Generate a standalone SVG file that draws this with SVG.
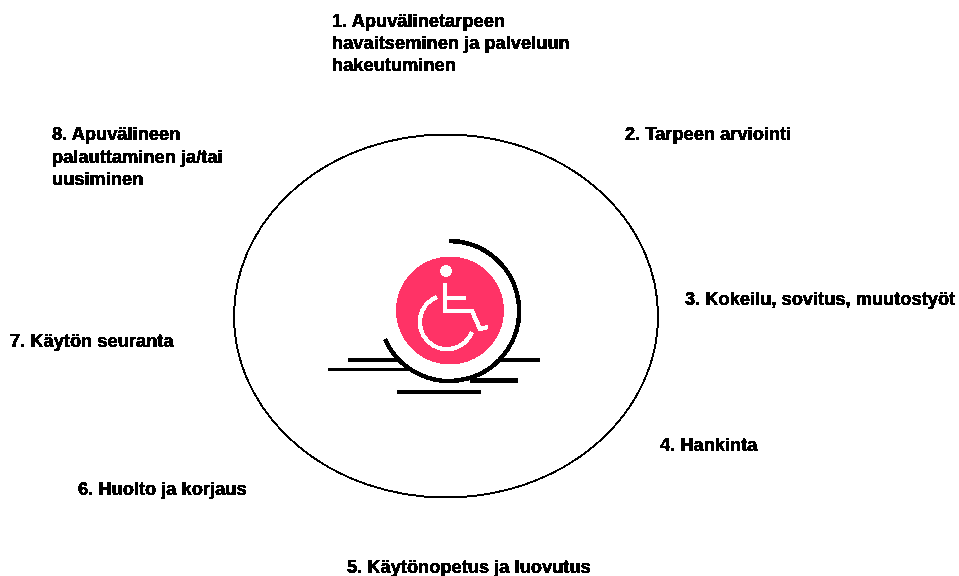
<svg xmlns="http://www.w3.org/2000/svg" width="959" height="576" viewBox="0 0 959 576">
<style>
text{font-family:"Liberation Sans",Arial,sans-serif;font-weight:700;font-size:18.3px;fill:#000;stroke:#000;stroke-width:.35;filter:url(#hard)}
.k{fill:none;stroke:#000;stroke-width:2;shape-rendering:crispEdges}
.l{fill:none;stroke:#000;shape-rendering:crispEdges}
.a{fill:none;stroke:#000;stroke-width:4.5;shape-rendering:crispEdges}
.w{fill:none;stroke:#fff;stroke-width:4.5;shape-rendering:crispEdges}
</style>
<defs>
<filter id="hard" x="-5%" y="-20%" width="110%" height="140%" color-interpolation-filters="sRGB">
<feComponentTransfer><feFuncA type="discrete" tableValues="0 1 1"/></feComponentTransfer>
</filter>
</defs>
<rect width="959" height="576" fill="#fff"/>
<g id="connectors">
<ellipse class="k" cx="446" cy="316" rx="212" ry="181.5"/>
</g>
<g id="symbol">
<path class="l" stroke-width="4" d="M348 360H399M501 360H540"/>
<path class="l" stroke-width="3" d="M328 369H410"/>
<path class="l" stroke-width="4.5" d="M470 380.500H518"/>
<path class="l" stroke-width="4" d="M397 392H481"/>
<circle cx="450" cy="310.500" r="54" fill="#ff3366" shape-rendering="crispEdges"/>
<path class="a" d="M449 241A70 70 0 1 1 385 339"/>
<circle cx="446" cy="271" r="6" fill="#fff" shape-rendering="crispEdges"/>
<path class="w" d="M445 283V311H472L480 329L488 327M445 298H466M437 297A27 27 0 1 0 472 332"/>
</g>
<g id="n1"><text x="332" y="27">1. Apuvälinetarpeen</text><text x="332" y="49">havaitseminen ja palveluun</text><text x="332" y="71">hakeutuminen</text></g>
<g id="n2"><text x="625" y="140">2. Tarpeen arviointi</text></g>
<g id="n3"><text x="685" y="305">3. Kokeilu, sovitus, muutostyöt</text></g>
<g id="n4"><text x="660" y="451">4. Hankinta</text></g>
<g id="n5"><text x="347" y="573">5. Käytönopetus ja luovutus</text></g>
<g id="n6"><text x="78" y="495">6. Huolto ja korjaus</text></g>
<g id="n7"><text x="10" y="347">7. Käytön seuranta</text></g>
<g id="n8"><text x="52" y="140">8. Apuvälineen</text><text x="52" y="163">palauttaminen ja/tai</text><text x="52" y="185">uusiminen</text></g>
</svg>
